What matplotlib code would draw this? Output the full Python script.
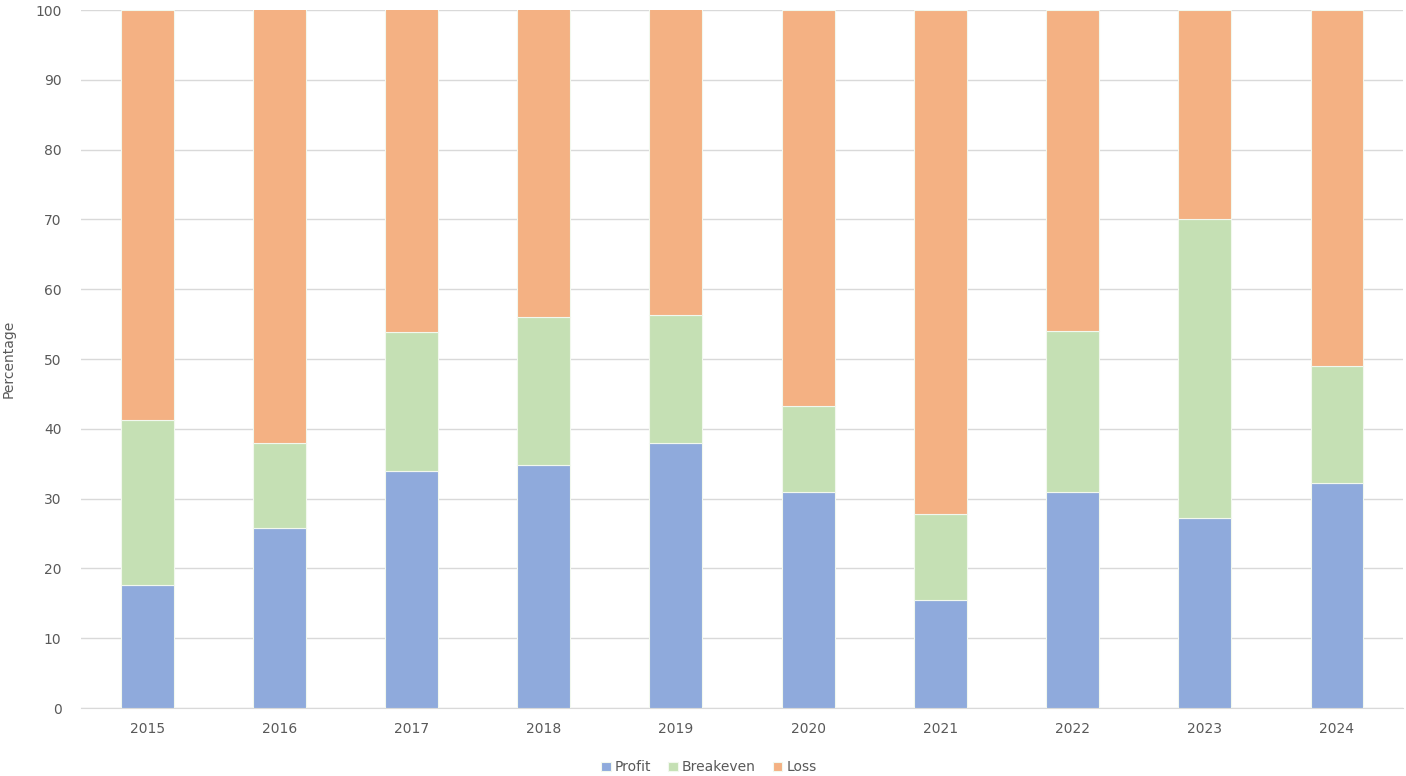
import matplotlib
matplotlib.use('Agg')
import matplotlib.pyplot as plt
import numpy as np

years = ['2015', '2016', '2017', '2018', '2019', '2020', '2021', '2022', '2023', '2024']
profit = [17.6, 25.8, 34.0, 34.8, 38.0, 30.9, 15.5, 30.9, 27.2, 32.3]
breakeven = [23.7, 12.1, 19.9, 21.2, 18.3, 12.4, 12.3, 23.1, 42.9, 16.7]
loss = [58.7, 62.4, 46.4, 44.3, 44.0, 56.7, 72.2, 46.0, 29.9, 51.0]

colors = ['#8FAADC', '#C5E0B4', '#F4B183']
labels = ['Profit', 'Breakeven', 'Loss']

fig = plt.figure(figsize=(14.06, 7.76), dpi=100)
ax = fig.add_axes([0.0576, 0.0876, 0.9403, 0.8995])

x = np.arange(len(years))
bottom = np.zeros(len(years))
for vals, c, lab in zip([profit, breakeven, loss], colors, labels):
    ax.bar(x, vals, 0.4, bottom=bottom, color=c, label=lab,
           edgecolor='#F2F8EE', linewidth=0.8, zorder=3)
    bottom += np.array(vals)

ax.set_xlim(-0.5, 9.5)
ax.set_ylim(0, 100)
ax.set_yticks(np.arange(0, 101, 10))
ax.set_xticks(x)
ax.set_xticklabels(years)
ax.grid(axis='y', color='#D9D9D9', linewidth=1, zorder=0)
for s in ['top', 'right', 'left']:
    ax.spines[s].set_visible(False)
ax.spines['bottom'].set_color('#D9D9D9')
ax.tick_params(axis='both', length=0, colors='#595959', labelsize=10)
ax.tick_params(axis='y', pad=14)
ax.tick_params(axis='x', pad=10)
ax.set_ylabel('Percentage', color='#595959', fontsize=10, labelpad=14)

ax.legend(loc='upper center', bbox_to_anchor=(0.475, -0.057), ncol=3, frameon=False,
          fontsize=10, handlelength=0.7, handleheight=0.7, handletextpad=0.3,
          columnspacing=1.2, labelcolor='#595959')

fig.savefig('out.png', dpi=100)
